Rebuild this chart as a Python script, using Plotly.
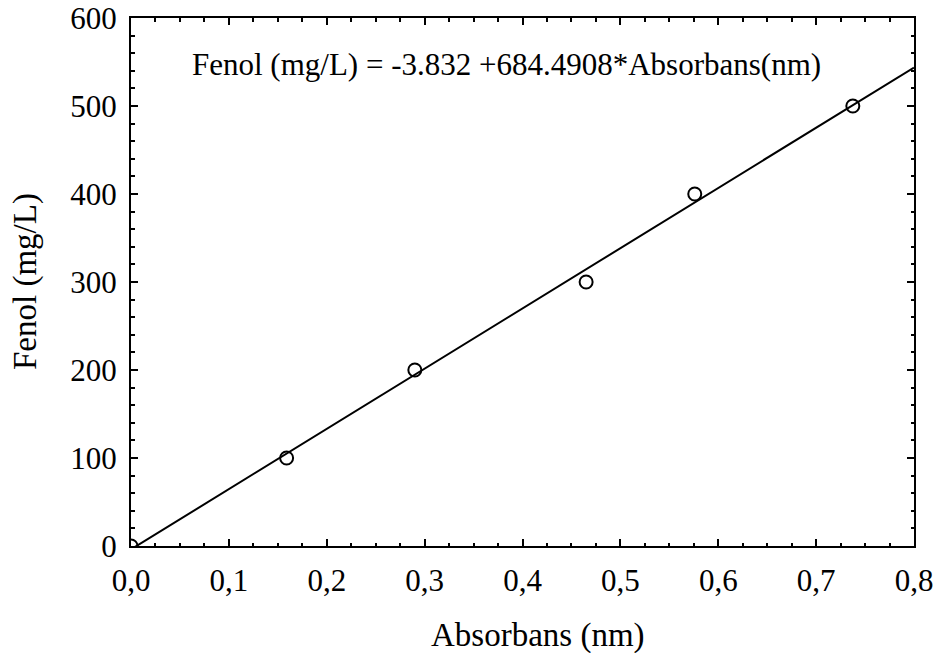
import numpy as np
import plotly.graph_objects as go

# Calibration measurements
absorbans = [0.0, 0.159, 0.290, 0.465, 0.576, 0.7375]
fenol = [0, 100, 200, 300, 400, 500]

# Fitted calibration line: Fenol = intercept + slope * Absorbans
intercept = -3.832
slope = 684.4908
line_x = np.array([0.0, 0.8])
line_y = intercept + slope * line_x

x_ticks = [0.0, 0.1, 0.2, 0.3, 0.4, 0.5, 0.6, 0.7, 0.8]
y_ticks = [0, 100, 200, 300, 400, 500, 600]

FONT = "Liberation Serif, Times New Roman, DejaVu Serif, serif"

fig = go.Figure()
fig.add_trace(go.Scatter(
    x=line_x, y=line_y, mode="lines",
    line=dict(color="black", width=2),
    hoverinfo="skip", showlegend=False,
))
fig.add_trace(go.Scatter(
    x=absorbans, y=fenol, mode="markers",
    marker=dict(symbol="circle-open", size=13, color="black",
                line=dict(color="black", width=2)),
    cliponaxis=True, showlegend=False,
))

# regression equation
fig.add_annotation(
    xref="paper", yref="paper", x=0.48, y=0.912,
    xanchor="center", yanchor="middle",
    text="Fenol (mg/L) = -3.832 +684.4908*Absorbans(nm)",
    showarrow=False, font=dict(family=FONT, size=31, color="black"),
)
# axis titles as free annotations for precise placement
fig.add_annotation(
    xref="paper", yref="paper", x=0.52, y=0, yshift=-89,
    xanchor="center", yanchor="middle",
    text="Absorbans (nm)", showarrow=False,
    font=dict(family=FONT, size=33, color="black"),
)
fig.add_annotation(
    xref="paper", yref="paper", x=0, y=0.5, xshift=-106,
    xanchor="center", yanchor="middle", textangle=-90,
    text="Fenol (mg/L)", showarrow=False,
    font=dict(family=FONT, size=33, color="black"),
)

axis_common = dict(
    showgrid=False, zeroline=False, showline=True, linecolor="black",
    linewidth=2, mirror="ticks", ticks="inside", tickcolor="black",
    tickwidth=1.5, ticklen=7, automargin=False,
    tickfont=dict(family=FONT, size=31, color="black"),
)

fig.update_layout(
    width=940, height=653,
    margin=dict(l=131, r=26, t=18, b=107),
    paper_bgcolor="white", plot_bgcolor="white",
    separators=",.",
    font=dict(family=FONT, color="black"),
    xaxis=dict(
        range=[0, 0.8], tickvals=x_ticks, tickformat=".1f",
        minor=dict(dtick=0.025, tick0=0, ticks="inside", ticklen=3.5,
                   tickwidth=1.5, tickcolor="black"),
        ticklabelstandoff=6,
        **axis_common,
    ),
    yaxis=dict(
        range=[0, 600], tickvals=y_ticks,
        minor=dict(dtick=20, tick0=0, ticks="inside", ticklen=3.5,
                   tickwidth=1.5, tickcolor="black"),
        ticklabelstandoff=6,
        **axis_common,
    ),
)

fig.write_html("out.html")
